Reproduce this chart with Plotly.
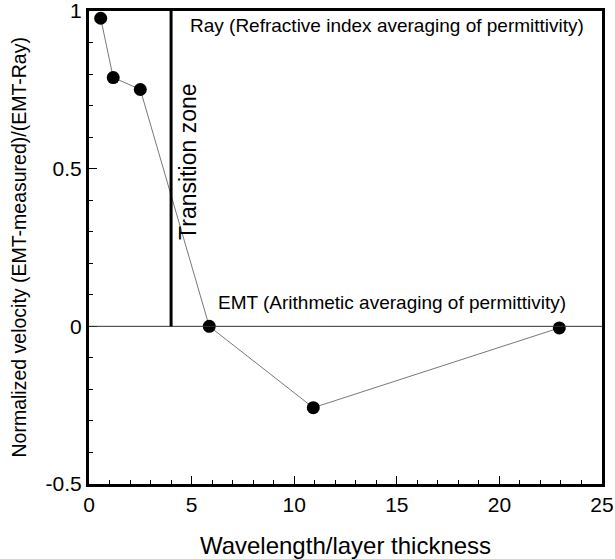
import plotly.graph_objects as go

# Data
x_ratio = [0.57, 1.18, 2.5, 5.86, 10.93, 22.92]
y_norm = [0.977, 0.789, 0.751, 0.0, -0.258, -0.005]
transition_x = 4.0

FONT = "Liberation Sans, Arial, sans-serif"

fig = go.Figure()

fig.add_trace(go.Scatter(
    x=x_ratio, y=y_norm, mode="lines+markers",
    line=dict(color="#555555", width=0.8),
    marker=dict(color="black", size=13),
    showlegend=False, cliponaxis=False,
))

# zero line
fig.add_shape(type="line", xref="x", yref="y", x0=0, x1=25, y0=0, y1=0,
              line=dict(color="#333333", width=1))
# transition line
fig.add_shape(type="line", xref="x", yref="y", x0=transition_x, x1=transition_x, y0=0, y1=1,
              line=dict(color="black", width=3))

fig.add_annotation(x=4.82, y=0.955, xref="x", yref="y", text="Ray (Refractive index averaging of permittivity)",
                   showarrow=False, xanchor="left", yanchor="middle",
                   font=dict(family=FONT, size=19, color="black"))
fig.add_annotation(x=6.2, y=0.076, xref="x", yref="y", text="EMT (Arithmetic averaging of permittivity)",
                   showarrow=False, xanchor="left", yanchor="middle",
                   font=dict(family=FONT, size=19, color="black"))
fig.add_annotation(x=4.85, y=0.52, xref="x", yref="y", text="Transition zone", textangle=-90,
                   showarrow=False, xanchor="center", yanchor="middle",
                   font=dict(family=FONT, size=23, color="black"))
# y axis title
fig.add_annotation(x=-0.1384, y=0.5, xref="paper", yref="paper",
                   text="Normalized velocity (EMT-measured)/(EMT-Ray)", textangle=-90,
                   showarrow=False, xanchor="center", yanchor="middle",
                   font=dict(family=FONT, size=19.5, color="black"))

fig.update_xaxes(
    range=[0, 25], tickvals=[0, 5, 10, 15, 20, 25], ticktext=["0", "5", "10", "15", "20", "25"],
    ticks="inside", ticklen=8, tickwidth=1, tickcolor="black",
    minor=dict(dtick=1, ticks="inside", ticklen=4, tickcolor="black"),
    showline=True, linewidth=3, linecolor="black", mirror=True,
    showgrid=False, zeroline=False, automargin=False, ticklabeloverflow="allow",
    tickfont=dict(family=FONT, size=21, color="black"),
    title=dict(text="Wavelength/layer thickness", font=dict(family=FONT, size=24, color="black"), standoff=22),
)
fig.update_yaxes(
    range=[-0.5, 1], tickvals=[-0.5, 0, 0.5, 1], ticktext=["-0.5", "0", "0.5", "1"],
    ticks="inside", ticklen=8, tickwidth=1, tickcolor="black",
    minor=dict(dtick=0.1, ticks="inside", ticklen=4, tickcolor="black"),
    showline=True, linewidth=3, linecolor="black", mirror=True,
    showgrid=False, zeroline=False, automargin=False, ticklabeloverflow="allow",
    tickfont=dict(family=FONT, size=21, color="black"),
)

fig.update_layout(
    width=615, height=559,
    margin=dict(l=89, r=13, t=11, b=75),
    plot_bgcolor="white", paper_bgcolor="white",
    font=dict(family=FONT),
)

fig.write_html("out.html")
